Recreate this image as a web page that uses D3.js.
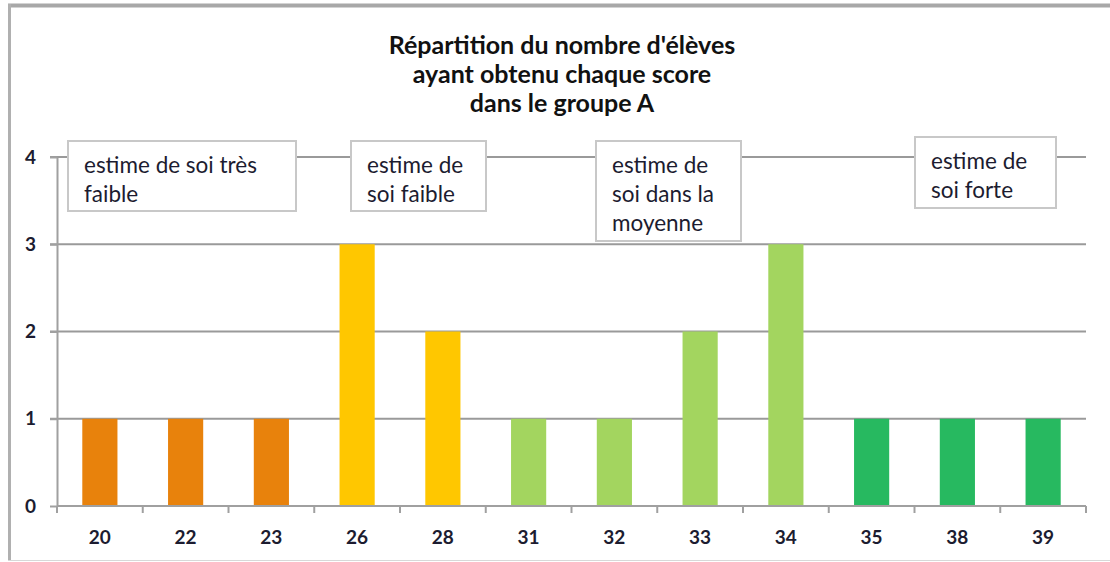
<!DOCTYPE html>
<html>
<meta charset="utf-8">
<style>
body { margin: 0; background: #fff; font-family: Lato, "Open Sans", sans-serif; }
.grid line { stroke: #9a9a9a; stroke-width: 2px; }
.axis path, .axis line { fill: none; stroke: #a0a0a0; stroke-width: 2px; }
.axis text { font-size: 19px; font-weight: bold; fill: #1c1c30; font-family: Lato, sans-serif; }
.note rect { fill: #fff; stroke: #c8c8c8; stroke-width: 2px; }
.note text { font-size: 22.5px; fill: #1c1c30; }
.title { font-size: 25px; font-weight: bold; fill: #111; }
</style>
<body>
<script src="https://d3js.org/d3.v7.min.js"></script>
<script>
// scores and number of pupils per score
var scores = ["20", "22", "23", "26", "28", "31", "32", "33", "34", "35", "38", "39"];
var counts = [1, 1, 1, 3, 2, 1, 1, 2, 3, 1, 1, 1];
var groups = ["tres faible", "tres faible", "tres faible", "faible", "faible",
  "moyenne", "moyenne", "moyenne", "moyenne", "forte", "forte", "forte"];
var yTicks = [0, 1, 2, 3, 4];
var titleLines = ["Répartition du nombre d'élèves", "ayant obtenu chaque score", "dans le groupe A"];
var notes = [
  ["estime de soi très", "faible"],
  ["estime de", "soi faible"],
  ["estime de", "soi dans la", "moyenne"],
  ["estime de", "soi forte"]
];

var W = 1110, H = 562;
var margin = {top: 157, right: 24, bottom: 56, left: 57};
var width = W - margin.left - margin.right,
    height = H - margin.top - margin.bottom;

var color = d3.scaleOrdinal()
  .domain(["tres faible", "faible", "moyenne", "forte"])
  .range(["#e8820c", "#ffc700", "#a3d55f", "#27b960"]);

var svg = d3.select("body").append("svg")
    .attr("width", W)
    .attr("height", H);

// outer frame
svg.append("line").attr("x1", 8).attr("x2", W).attr("y1", 5.5).attr("y2", 5.5)
  .style("stroke", "#a8a8a8").style("stroke-width", 4);
svg.append("line").attr("x1", 9.5).attr("x2", 9.5).attr("y1", 4).attr("y2", 561)
  .style("stroke", "#b0b0b0").style("stroke-width", 3);
svg.append("line").attr("x1", 8).attr("x2", W).attr("y1", 560.5).attr("y2", 560.5)
  .style("stroke", "#d8d8d8").style("stroke-width", 1);

var g = svg.append("g")
    .attr("transform", "translate(" + margin.left + "," + margin.top + ")");

var x = d3.scaleBand().domain(scores).range([0, width]).paddingInner(0.59).paddingOuter(0.295);
var y = d3.scaleLinear().domain([0, 4]).range([height, 0]);

// gridlines
g.append("g").attr("class", "grid")
  .selectAll("line")
  .data(yTicks.filter(function(d) { return d > 0; }))
  .enter().append("line")
    .attr("x1", -7).attr("x2", width)
    .attr("y1", function(d) { return y(d); })
    .attr("y2", function(d) { return y(d); });

// bars
g.selectAll(".bar")
    .data(scores)
  .enter().append("rect")
    .attr("class", "bar")
    .attr("x", function(d) { return x(d); })
    .attr("width", x.bandwidth())
    .attr("y", function(d, i) { return y(counts[i]); })
    .attr("height", function(d, i) { return height - y(counts[i]); })
    .style("fill", function(d, i) { return color(groups[i]); });

// y axis
g.append("g").attr("class", "axis")
  .call(d3.axisLeft(y).tickValues(yTicks).tickFormat(d3.format("d")).tickSizeInner(7).tickSizeOuter(0).tickPadding(14));

// x axis with ticks between categories
var step = x.step();
var xAxis = g.append("g").attr("class", "axis")
  .attr("transform", "translate(0," + height + ")");
xAxis.append("line").attr("x1", 0).attr("x2", width).attr("y1", 0).attr("y2", 0);
xAxis.selectAll(".tk")
  .data(d3.range(scores.length + 1))
  .enter().append("line")
    .attr("x1", function(i) { return i * step; })
    .attr("x2", function(i) { return i * step; })
    .attr("y1", 0).attr("y2", 7);
xAxis.selectAll("text")
  .data(scores)
  .enter().append("text")
    .attr("x", function(d) { return x(d) + x.bandwidth() / 2; })
    .attr("y", 38)
    .attr("text-anchor", "middle")
    .text(function(d) { return d; });

// title
svg.append("text").attr("class", "title")
  .attr("text-anchor", "middle")
  .selectAll("tspan")
  .data(titleLines)
  .enter().append("tspan")
    .attr("x", 562)
    .attr("y", function(d, i) { return 54 + i * 29; })
    .text(function(d) { return d; });

// annotation boxes
var boxes = [
  {x: 68, y: 141, w: 228, h: 70},
  {x: 351, y: 141, w: 135, h: 70},
  {x: 596, y: 141, w: 145, h: 100},
  {x: 915, y: 137, w: 141, h: 71}
];
var note = svg.selectAll(".note")
    .data(boxes)
  .enter().append("g")
    .attr("class", "note")
    .attr("transform", function(d) { return "translate(" + d.x + "," + d.y + ")"; });
note.append("rect")
    .attr("width", function(d) { return d.w; })
    .attr("height", function(d) { return d.h; });
note.each(function(d, i) {
  d3.select(this).append("text")
    .selectAll("tspan")
    .data(notes[i])
    .enter().append("tspan")
      .attr("x", 16)
      .attr("y", function(t, j) { return 32 + j * 29; })
      .text(function(t) { return t; });
});
</script>
</body>
</html>
